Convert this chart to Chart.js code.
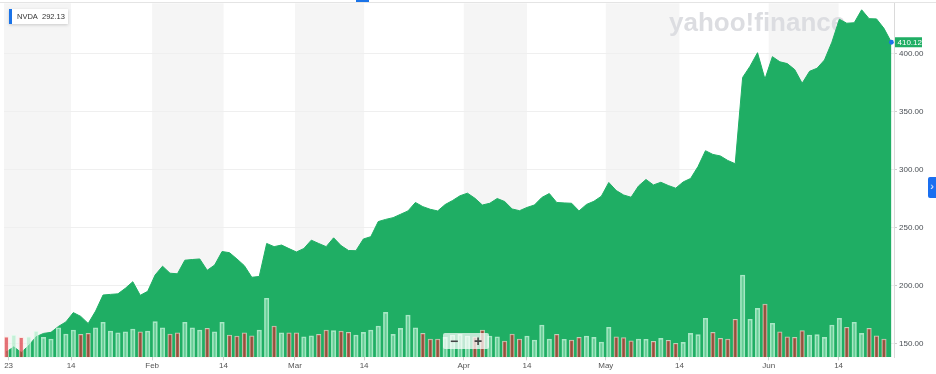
<!DOCTYPE html>
<html>
<head>
<meta charset="utf-8">
<script src="https://cdn.jsdelivr.net/npm/chart.js@4"></script>
<style>
  html, body { margin: 0; padding: 0; background: #fff; }
  #wrap { position: relative; width: 936px; height: 374px; overflow: hidden; font-family: "Liberation Sans", Arial, sans-serif; }
  canvas { position: absolute; left: 0; top: 0; }
  .legend { position: absolute; left: 9px; top: 9px; height: 15px; line-height: 15px; padding: 0 3px 0 5px;
    background: #fff; border-left: 3px solid #1a73e8; box-shadow: 0 1px 3px rgba(0,0,0,0.18);
    font-size: 7.5px; color: #333; white-space: nowrap; }
  .topmark { position: absolute; left: 356px; top: 0; width: 13px; height: 2px; background: #1a73e8; }
  .tab { position: absolute; left: 928px; top: 177px; width: 8px; height: 21px; background: #1a6ff0;
    color: #fff; font-size: 10px; line-height: 20px; text-align: center; border-radius: 2px 0 0 2px; }
  .zoombox { position: absolute; left: 443px; top: 333px; width: 46px; height: 16px; background: rgba(255,255,255,0.72);
    border-radius: 2px; color: #444; font-size: 14px; font-weight: bold; line-height: 16px; }
  .zoombox span { position: absolute; top: 0; width: 12px; text-align: center; }
</style>
</head>
<body>
<div id="wrap">
  <canvas id="chart" width="936" height="374"></canvas>
  <div class="legend">NVDA&nbsp;&nbsp;292.13</div>
  <div class="topmark"></div>
  <div class="tab">›</div>
  <div class="zoombox"><span style="left:5px">−</span><span style="left:29px">+</span></div>
</div>
<script>
// daily closes, Jan 3 – Jun 26 2023 (trading days)
const closes = [
  143.15, 147.49, 142.65, 148.59, 156.28, 159.09, 160.01, 165.11, 168.99, 177.02,
  173.77, 167.65, 178.39, 192.21, 192.75, 193.22, 198.02, 203.65, 191.94, 195.37,
  209.43, 217.04, 211.00, 210.50, 222.20, 222.80, 223.30, 213.50, 218.00, 229.70,
  228.70, 223.30, 217.50, 207.50, 208.20, 236.64, 233.90, 235.30, 232.20,
  229.30, 232.30, 239.50, 236.60, 233.90, 241.50, 234.80, 230.60, 230.40, 240.50,
  242.50, 255.50, 257.40, 258.90, 261.80, 264.70, 272.00, 268.40, 266.10, 264.70,
  270.20, 273.70, 277.77,
  280.00, 275.60, 269.80, 271.30, 275.40, 272.80, 266.40, 264.90, 267.70, 269.80,
  276.30, 279.70, 272.00, 271.60, 271.30, 264.70, 270.30, 273.00, 277.40,
  289.20, 282.30, 278.40, 276.50, 286.20, 291.80, 287.10, 289.40, 286.60, 284.30,
  289.70, 292.70, 303.00, 316.60, 313.40, 312.10, 308.20, 305.38, 379.80, 389.46,
  401.11, 378.34,
  397.70, 393.27, 391.71, 386.54, 374.75, 385.10, 387.70, 394.82, 410.22, 429.97,
  426.53, 426.92, 438.08, 430.45, 430.25, 422.09, 410.12
];

// volume, millions of shares
const volumes = [
  38.6, 41.8, 37.5, 38.6, 49.3, 37.5, 34.3, 55.5, 43.7, 51.2,
  43.1, 45.0, 55.5, 65.7, 49.3, 46.1, 48.0, 53.1, 48.0, 49.3,
  66.8, 55.5, 43.7, 46.1, 65.7, 55.5, 51.2, 54.4, 48.0, 65.7,
  41.8, 40.0, 46.1, 40.5, 51.2, 110.7, 58.7, 46.1, 46.1, 46.1,
  38.6, 40.5, 43.1, 51.2, 49.9, 49.3, 46.9, 41.8, 46.9, 51.2,
  58.7, 84.4, 43.1, 54.4, 79.4, 55.5, 45.0, 34.3, 34.3, 37.5,
  41.8, 43.1, 40.0, 38.6, 51.2, 40.0, 38.6, 30.6, 43.7, 34.3,
  40.0, 32.5, 60.6, 34.3, 43.1, 33.8, 32.5, 37.5, 40.0, 37.5,
  28.7, 56.3, 38.6, 36.8, 31.1, 34.3, 33.8, 30.0, 35.6, 31.9,
  26.3, 28.1, 45.0, 42.4, 73.2, 46.9, 35.6, 34.3, 71.3, 154.4,
  71.3, 91.9, 100.0, 63.8, 48.0, 38.6, 37.5, 49.9, 41.8, 42.4,
  37.5, 60.6, 73.2, 56.3, 65.7, 45.0, 54.4, 40.5, 34.3, null
];

// 1 = up day, 0 = down day
const upDay = [
  0,1,0,1,1,1,1,1,1,1, 0,0,1,1,1,1,1,1,0,1,
  1,1,0,0,1,1,1,0,1,1, 0,0,0,0,1,1,0,1,0,0,
  1,1,0,0,1,0,0,1,1,1, 1,1,1,1,1,1,0,0,0,1,
  1,1,1,0,0,1,1,0,0,0, 1,1,1,1,0,1,0,0,1,1,
  1,1,0,0,0,1,1,0,1,0, 0,1,1,1,1,0,0,0,0,1,
  1,1,0,1,0,0,0,0,1,1, 1,1,1,0,1,1,0,0,0,0
];

const tickPos = [0.3, 8.7, 19.6, 29.2, 38.8, 48.1, 61.5, 70, 80.6, 90.5, 102.5, 111.9];
const tickLabels = ['23', '14', 'Feb', '14', 'Mar', '14', 'Apr', '14', 'May', '14', 'Jun', '14'];
const yTicks = [150, 200, 250, 300, 350, 400];

const GREEN = '#1fae64';
const FONT = '"Liberation Sans", Arial, sans-serif';

const decor = {
  id: 'decor',
  beforeDraw(chart) {
    const { ctx, chartArea: a, scales: { x } } = chart;
    ctx.save();
    // month bands: from month start to the 14th
    ctx.fillStyle = '#f5f5f5';
    for (let k = 0; k < tickPos.length; k += 2) {
      const from = k === 0 ? a.left : x.getPixelForValue(tickPos[k]);
      const to = x.getPixelForValue(tickPos[k + 1]);
      ctx.fillRect(from, a.top, to - from, a.bottom - a.top);
    }
    ctx.fillStyle = '#e4e4e4';
    ctx.fillRect(0, Math.round(a.top) - 1, chart.width, 1);
    // watermark
    ctx.font = 'bold 26px ' + FONT;
    ctx.fillStyle = '#dcdde1';
    ctx.textBaseline = 'alphabetic';
    ctx.fillText('yahoo!finance', 669, 31);
    ctx.restore();
  },
  afterDatasetsDraw(chart) {
    const { ctx, chartArea: a, scales: { y } } = chart;
    const last = closes[closes.length - 1];
    const pt = chart.getDatasetMeta(0).data[closes.length - 1];
    const py = y.getPixelForValue(last);
    ctx.save();
    ctx.fillStyle = GREEN;
    ctx.fillRect(a.right + 1, py - 5, 27, 10);
    ctx.fillStyle = '#fff';
    ctx.font = '8px ' + FONT;
    ctx.textBaseline = 'middle';
    ctx.fillText(last.toFixed(2), a.right + 3.5, py + 0.5);
    ctx.beginPath();
    ctx.arc(pt.x, pt.y, 2.4, 0, Math.PI * 2);
    ctx.fillStyle = '#1a73e8';
    ctx.fill();
    ctx.restore();
  }
};

new Chart(document.getElementById('chart'), {
  type: 'line',
  data: {
    datasets: [
      {
        type: 'line',
        data: closes.map((c, i) => ({ x: i, y: c })),
        borderColor: GREEN,
        backgroundColor: GREEN,
        borderWidth: 1,
        pointRadius: 0,
        tension: 0,
        fill: 'start',
        order: 2,
        yAxisID: 'y'
      },
      {
        type: 'bar',
        data: volumes.map((v, i) => ({ x: i, y: v })),
        backgroundColor: upDay.map(u => u ? 'rgba(160,232,192,0.55)' : 'rgba(215,25,35,0.6)'),
        borderColor: upDay.map(u => u ? 'rgba(225,255,238,0.7)' : 'rgba(255,225,220,0.7)'),
        borderWidth: 1,
        borderSkipped: 'bottom',
        barThickness: 4.5,
        order: 1,
        yAxisID: 'yv'
      }
    ]
  },
  options: {
    responsive: false,
    animation: false,
    devicePixelRatio: 1,
    layout: { padding: { left: 4, top: 3.3, right: 0, bottom: 0 } },
    plugins: { legend: { display: false }, tooltip: { enabled: false } },
    scales: {
      x: {
        type: 'linear',
        offset: false,
        min: -0.32,
        max: 119.35,
        afterBuildTicks: s => { s.ticks = tickPos.map(v => ({ value: v })); },
        afterFit: s => { s.height = 16.7; s.paddingLeft = 0; s.paddingRight = 0; },
        ticks: {
          autoSkip: false,
          maxRotation: 0,
          padding: 1,
          color: '#555',
          font: { family: FONT, size: 8 },
          callback: (v) => tickLabels[tickPos.indexOf(v)]
        },
        grid: { offset: false, drawOnChartArea: false, drawTicks: true, tickLength: 3, tickColor: '#cfcfcf' },
        border: { display: false }
      },
      y: {
        position: 'right',
        min: 138.5,
        max: 443.7,
        afterBuildTicks: s => { s.ticks = yTicks.map(v => ({ value: v })); },
        afterFit: s => { s.width = 42; s.paddingTop = 0; s.paddingBottom = 0; },
        ticks: {
          padding: 2,
          color: '#4a4f55',
          font: { family: FONT, size: 8 },
          callback: v => Number(v).toFixed(2)
        },
        grid: { color: '#efefef', tickLength: 3, tickColor: '#cfcfcf' },
        border: { display: true, color: '#dadada' }
      },
      yv: {
        display: false,
        min: 0,
        max: 664
      }
    }
  },
  plugins: [decor]
});
</script>
</body>
</html>
